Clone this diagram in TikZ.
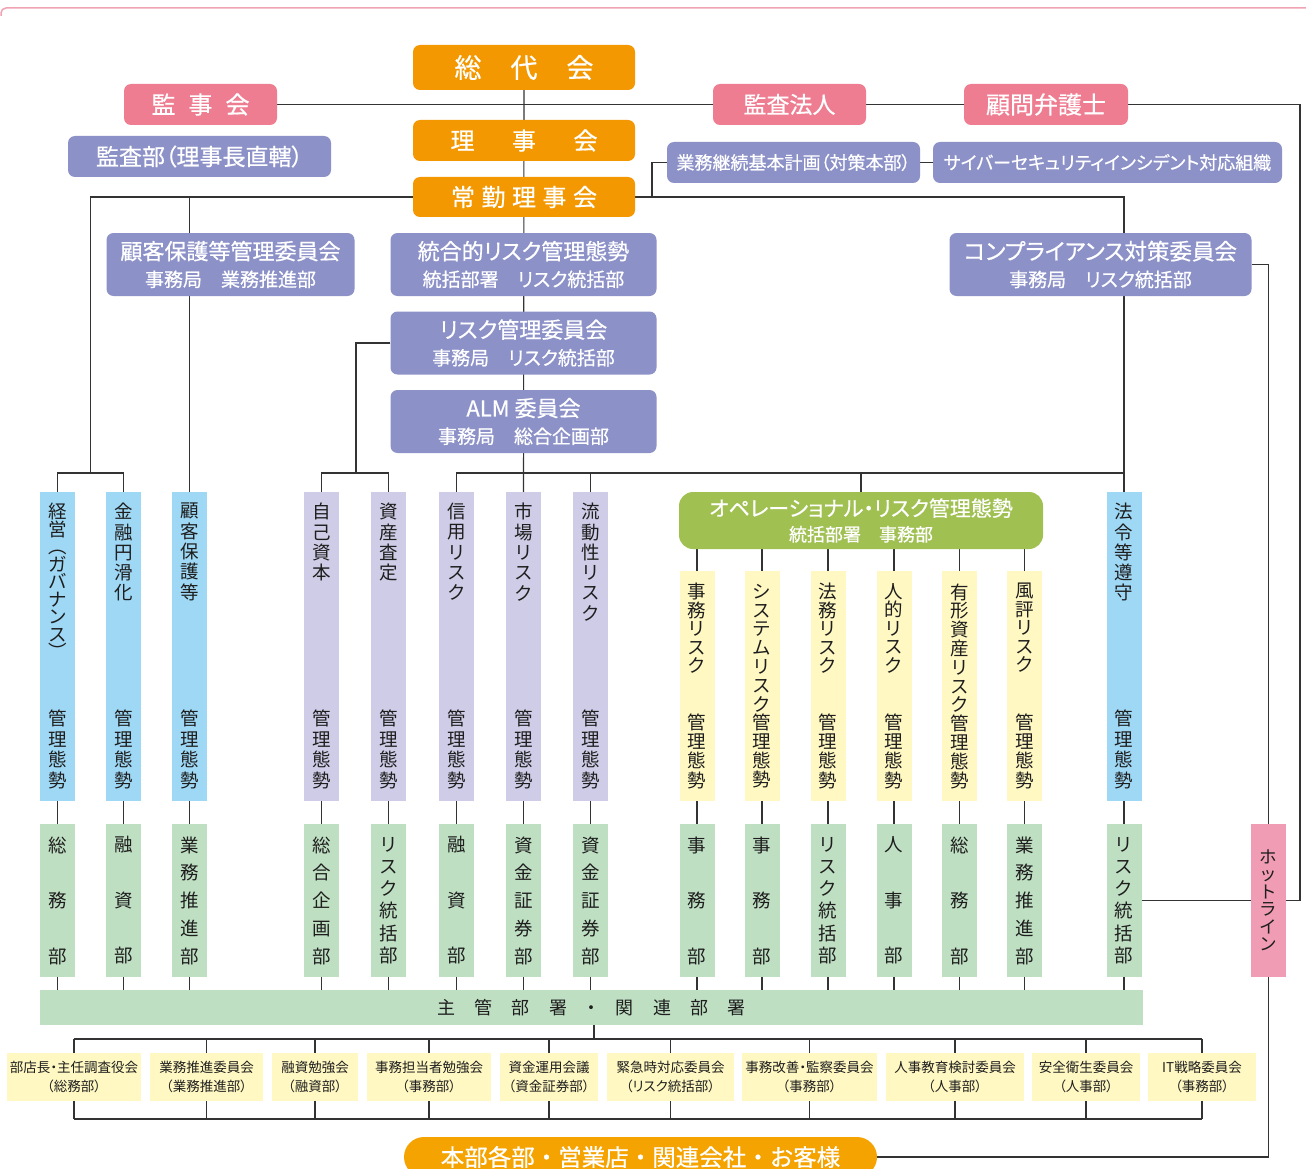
\documentclass[tikz,border=0pt]{standalone}
\usepackage{fontspec}
\setmainfont{Noto Sans CJK JP}[RawFeature={+palt}]
\newfontfamily\vfont{Noto Sans CJK JP}
\newfontfamily\hfont{Noto Sans CJK JP}[RawFeature={+palt},FakeBold=0.6]
\newfontfamily\hfontn{Noto Sans CJK JP}[FakeBold=0.6]
\newcommand\hf[2]{\hfont\fontsize{#1}{#2}\selectfont}
\usetikzlibrary{calc}
\pgfdeclarelayer{bg}
\pgfdeclarelayer{paper}
\pgfsetlayers{paper,bg,main}
\definecolor{orng}{HTML}{F39800}
\definecolor{orng2}{HTML}{F5A300}
\definecolor{pnk}{HTML}{EE7D92}
\definecolor{prp}{HTML}{8C91C7}
\definecolor{lblue}{HTML}{9FD8F5}
\definecolor{lav}{HTML}{CECCE6}
\definecolor{ogrn}{HTML}{A0C152}
\definecolor{yel}{HTML}{FFF8C2}
\definecolor{dgrn}{HTML}{BFDFC3}
\definecolor{hot}{HTML}{F09CB4}
\definecolor{pline}{HTML}{F0A3B3}
\definecolor{lnc}{HTML}{333333}
\definecolor{txt}{HTML}{1E1E1E}
\newcommand\mkMgmt[6]{%
  \node[colbox, fill=#3, minimum height=309pt] (#1) at (#2,646.5) {};
  \node[vt, anchor=north, font=\vfont\fontsize{18.5}{#6}\selectfont] (#1t) at (#2,503) {#4};
  \node[vt, anchor=south] (#1b) at (#2,789) {#5};}
\newcommand\mkOpr[4]{%
  \node[colbox, fill=yel, minimum height=230pt] (#1) at (#2,686) {};
  \node[vt, anchor=north, font=\vfont\fontsize{18.5}{18.5}\selectfont] (#1t) at (#2,583) {#3};
  \node[vt, anchor=south, font=\vfont\fontsize{18.5}{19.3}\selectfont] (#1b) at (#2,789) {#4};}
\newcommand\mkDept[4]{%
  \node[colbox, fill=dgrn, minimum height=153pt, align=center, text=txt,
        font=\vfont\fontsize{18.5}{#3}\selectfont] (d-#1) at (#2,900.5) {#4};}
\begin{document}
\begin{tikzpicture}[x=1pt,y=-1pt,
  hdr/.style={rounded corners=7pt, inner sep=0pt, text=white, align=center},
  ob/.style={hdr, fill=orng},
  pb/.style={hdr, fill=pnk},
  vb/.style={hdr, fill=prp},
  colbox/.style={rectangle, inner sep=0pt, minimum width=35pt},
  vt/.style={inner sep=0pt, align=center, text=txt, font=\vfont\fontsize{18.5}{20.5}\selectfont},
  cbox/.style={rectangle, fill=yel, inner sep=0pt, minimum height=48pt, align=center, text=txt,
               font=\fontsize{13.5}{19}\selectfont},
  ln/.style={draw=lnc, line width=1.1pt}]
\useasboundingbox (0,0) rectangle (1306,1169);
\begin{pgfonlayer}{paper}
\fill[white] (0,0) rectangle (1306,1169);
\end{pgfonlayer}
\clip (0,0) rectangle (1306,1169);
\draw[draw=pline, line width=1.5pt, rounded corners=5pt] (1,16) -- (1,8) -- (1306,8);

% top level
\node[ob, minimum width=222pt, minimum height=45pt, font=\hf{27}{27}] (sodai) at (524,67.5) {総\hspace{29pt}代\hspace{29pt}会};
\node[ob, minimum width=222pt, minimum height=41pt, font=\hf{24}{24}] (rijikai) at (524,140.5) {理\hspace{37.5pt}事\hspace{37.5pt}会};
\node[ob, minimum width=222pt, minimum height=40pt, font=\hf{24}{24}] (joukin) at (524,197) {常\hspace{6.5pt}勤\hspace{6.5pt}理\hspace{6.5pt}事\hspace{6.5pt}会};
\node[pb, minimum width=153pt, minimum height=41pt, font=\hf{24}{24}] (kanjikai) at (200.5,104.5) {監\hspace{13pt}事\hspace{13pt}会};
\node[pb, minimum width=153pt, minimum height=41pt, font=\hf{23}{23}] (kansa) at (789.5,104.5) {監査法人};
\node[pb, minimum width=164pt, minimum height=41pt, font=\hf{24}{24}] (komon) at (1046,104.5) {顧問弁護士};
\node[vb, minimum width=263pt, minimum height=41pt, font=\hf{23}{23}] (kansabu) at (199.5,156.5) {監査部（理事長直轄）};
\node[vb, minimum width=253pt, minimum height=41pt, font=\hf{18}{18}] (gyomu) at (793.5,162.5) {業務継続基本計画（対策本部）};
\node[vb, minimum width=349pt, minimum height=41pt, font=\hf{18}{18}] (cyber) at (1107.5,162.5) {サイバーセキュリティインシデント対応組織};

% committees
\node[vb, minimum width=248pt, minimum height=63pt, font=\hf{19}{27}] (kokyaku) at (230.5,264.5) {{\hf{22}{27}顧客保護等管理委員会}\\事務局\hspace{1em}業務推進部};
\node[vb, minimum width=266pt, minimum height=63pt, font=\hf{19}{27}] (tougou) at (523.5,264.5) {{\hf{22}{27}統合的リスク管理態勢}\\統括部署\hspace{1em}リスク統括部};
\node[vb, minimum width=266pt, minimum height=63pt, font=\hf{19}{27}] (risk) at (523.5,343) {{\hf{22}{27}リスク管理委員会}\\事務局\hspace{1em}リスク統括部};
\node[vb, minimum width=266pt, minimum height=63pt, font=\hf{19}{27}] (alm) at (523.5,421.5) {{\hf{22}{27}ALM 委員会}\\事務局\hspace{1em}総合企画部};
\node[vb, minimum width=302pt, minimum height=63pt, font=\hf{19}{27}] (compl) at (1100.5,264.5) {{\hf{22.5}{27}コンプライアンス対策委員会}\\事務局\hspace{1em}リスク統括部};
\node[hdr, fill=ogrn, rounded corners=14pt, minimum width=364pt, minimum height=57pt, font=\hf{18}{25}] (oper) at (861,520.5) {{\hf{21}{25}オペレーショナル・リスク管理態勢}\\統括部署\hspace{1em}事務部};

% management systems
\mkMgmt{keiei}{57.5}{lblue}{経\\営\\︵\\ガ\\バ\\ナ\\ン\\ス\\︶}{管\\理\\態\\勢}{17.5}
\mkMgmt{kinyu}{123.5}{lblue}{金\\融\\円\\滑\\化}{管\\理\\態\\勢}{20.3}
\mkMgmt{kokyakuR}{189.5}{lblue}{顧\\客\\保\\護\\等}{管\\理\\態\\勢}{20.3}
\mkMgmt{jiko}{321.5}{lav}{自\\己\\資\\本}{管\\理\\態\\勢}{20.3}
\mkMgmt{shisan}{388.5}{lav}{資\\産\\査\\定}{管\\理\\態\\勢}{20.3}
\mkMgmt{shinyo}{456.5}{lav}{信\\用\\リ\\ス\\ク}{管\\理\\態\\勢}{20.3}
\mkMgmt{shijo}{523.5}{lav}{市\\場\\リ\\ス\\ク}{管\\理\\態\\勢}{20.3}
\mkMgmt{ryudo}{590.5}{lav}{流\\動\\性\\リ\\ス\\ク}{管\\理\\態\\勢}{20.3}
\mkMgmt{houR}{1124}{lblue}{法\\令\\等\\遵\\守}{管\\理\\態\\勢}{20.3}

% operational risks
\mkOpr{jimu}{697}{事\\務\\リ\\ス\\ク}{管\\理\\態\\勢}
\node[colbox, fill=yel, minimum height=230pt] (sys) at (762,686) {};
\node[vt, font=\vfont\fontsize{18.5}{18.8}\selectfont] (syst) at (762,686) {シ\\ス\\テ\\ム\\リ\\ス\\ク\\管\\理\\態\\勢};
\mkOpr{homu}{828}{法\\務\\リ\\ス\\ク}{管\\理\\態\\勢}
\mkOpr{jinteki}{894}{人\\的\\リ\\ス\\ク}{管\\理\\態\\勢}
\node[colbox, fill=yel, minimum height=230pt] (yukei) at (959.5,686) {};
\node[vt, font=\vfont\fontsize{18.5}{18.8}\selectfont] (yukeit) at (959.5,686) {有\\形\\資\\産\\リ\\ス\\ク\\管\\理\\態\\勢};
\mkOpr{fuhyo}{1024.5}{風\\評\\リ\\ス\\ク}{管\\理\\態\\勢}

% departments
\mkDept{keiei}{57.5}{55.5}{総\\務\\部}
\mkDept{kinyu}{123.5}{55.5}{融\\資\\部}
\mkDept{kokyakuR}{189.5}{27.75}{業\\務\\推\\進\\部}
\mkDept{jiko}{321.5}{27.75}{総\\合\\企\\画\\部}
\mkDept{shisan}{388.5}{22.2}{リ\\ス\\ク\\統\\括\\部}
\mkDept{shinyo}{456.5}{55.5}{融\\資\\部}
\mkDept{shijo}{523.5}{27.75}{資\\金\\証\\券\\部}
\mkDept{ryudo}{590.5}{27.75}{資\\金\\証\\券\\部}
\mkDept{jimu}{697}{55.5}{事\\務\\部}
\mkDept{sys}{762}{55.5}{事\\務\\部}
\mkDept{homu}{828}{22.2}{リ\\ス\\ク\\統\\括\\部}
\mkDept{jinteki}{894}{55.5}{人\\事\\部}
\mkDept{yukei}{959.5}{55.5}{総\\務\\部}
\mkDept{fuhyo}{1024.5}{27.75}{業\\務\\推\\進\\部}
\mkDept{houR}{1124}{22.2}{リ\\ス\\ク\\統\\括\\部}

\node[colbox, fill=hot, minimum height=153pt, align=center, text=txt, font=\vfont\fontsize{17.5}{17.5}\selectfont] (hotline) at (1268.5,900.5) {ホ\\ッ\\ト\\ラ\\イ\\ン};

\node[rectangle, fill=dgrn, inner sep=0pt, minimum width=1103pt, minimum height=35pt, text=txt, font=\fontsize{18}{18}\selectfont] (bar) at (591.5,1007.5) {主\hspace{19.5pt}管\hspace{19.5pt}部\hspace{19.5pt}署\hspace{19.5pt}・\hspace{19.5pt}関\hspace{19.5pt}連\hspace{19.5pt}部\hspace{19.5pt}署};

% bottom committees
\node[cbox, minimum width=134pt] (c1) at (74,1077) {部店長・主任調査役会\\（総務部）};
\node[cbox, minimum width=113pt] (c2) at (206.5,1077) {業務推進委員会\\（業務推進部）};
\node[cbox, minimum width=86pt] (c3) at (315,1077) {融資勉強会\\（融資部）};
\node[cbox, minimum width=124pt] (c4) at (429,1077) {事務担当者勉強会\\（事務部）};
\node[cbox, minimum width=98pt] (c5) at (549,1077) {資金運用会議\\（資金証券部）};
\node[cbox, minimum width=127pt] (c6) at (670.5,1077) {緊急時対応委員会\\（リスク統括部）};
\node[cbox, minimum width=135pt] (c7) at (809.5,1077) {事務改善・監察委員会\\（事務部）};
\node[cbox, minimum width=138pt] (c8) at (955,1077) {人事教育検討委員会\\（人事部）};
\node[cbox, minimum width=108pt] (c9) at (1086,1077) {安全衛生委員会\\（人事部）};
\node[cbox, minimum width=108pt] (c10) at (1202,1077) {IT戦略委員会\\（事務部）};

\node[hdr, fill=orng2, rounded corners=20pt, minimum width=473pt, minimum height=40pt, font=\hfontn\fontsize{23.5}{23.5}\selectfont] (honbu) at (640.5,1157) {本部各部・営業店・関連会社・お客様};

\coordinate (rt) at (1300,104.5);
\coordinate (gl) at (652,162.5);
\coordinate (jl) at (90.5,197);
\coordinate (jld) at (90.5,473);
\coordinate (rk) at (356,473);
\coordinate (ct) at (594,1039);
\coordinate (cb) at (594,1119);

\begin{pgfonlayer}{bg}
\draw[ln] (sodai.south) -- (shijo.north);
\draw[ln] (kanjikai.east) -- (kansa.west);
\draw[ln] (kansa.east) -- (komon.west);
\draw[ln] (komon.east) -- (rt) |- (hotline.east);
\draw[ln] (gyomu.east) -- (cyber.west);
\draw[ln] (gyomu.west) -- (gl) -- (gl |- joukin.east);
\draw[ln] (joukin.west) -- (jl) -- (jld);
\draw[ln] (keiei.north) -- (keiei.north |- jld) -- (kinyu.north |- jld) -- (kinyu.north);
\draw[ln] (kokyakuR.north |- jl) -- (kokyakuR.north);
\draw[ln] (joukin.east) -- (houR.north |- joukin.east) -- (houR.north);
\draw[ln] (risk.west) -| (rk);
\draw[ln] (jiko.north) -- (jiko.north |- rk) -- (shisan.north |- rk) -- (shisan.north);
\draw[ln] (shinyo.north) -- (shinyo.north |- rk) -- (houR.north |- rk);
\draw[ln] (ryudo.north |- rk) -- (ryudo.north);
\draw[ln] (oper.north |- rk) -- (oper.north);
\foreach \n in {jimu,sys,homu,jinteki,yukei,fuhyo} \draw[ln] (\n.north) -- (\n.north |- oper.south);
\foreach \a in {keiei,kinyu,kokyakuR,jiko,shisan,shinyo,shijo,ryudo,jimu,sys,homu,jinteki,yukei,fuhyo,houR} {
  \draw[ln] (\a.south) -- (d-\a.north);
  \draw[ln] (d-\a.south) -- (d-\a.south |- bar.north);
}
\draw[ln] (d-houR.east) -- (hotline.west);
\draw[ln] (compl.east) -| (hotline.north);
\draw[ln] (hotline.south) |- (honbu.east);
\draw[ln] (bar.south -| ct) -- (ct);
\draw[ln] (c1.center |- ct) -- (c10.center |- ct);
\draw[ln] (c1.center |- cb) -- (c10.center |- cb);
\foreach \i in {1,...,10} \draw[ln] (c\i.center |- ct) -- (c\i.center |- cb);
\end{pgfonlayer}
\end{tikzpicture}
\end{document}
